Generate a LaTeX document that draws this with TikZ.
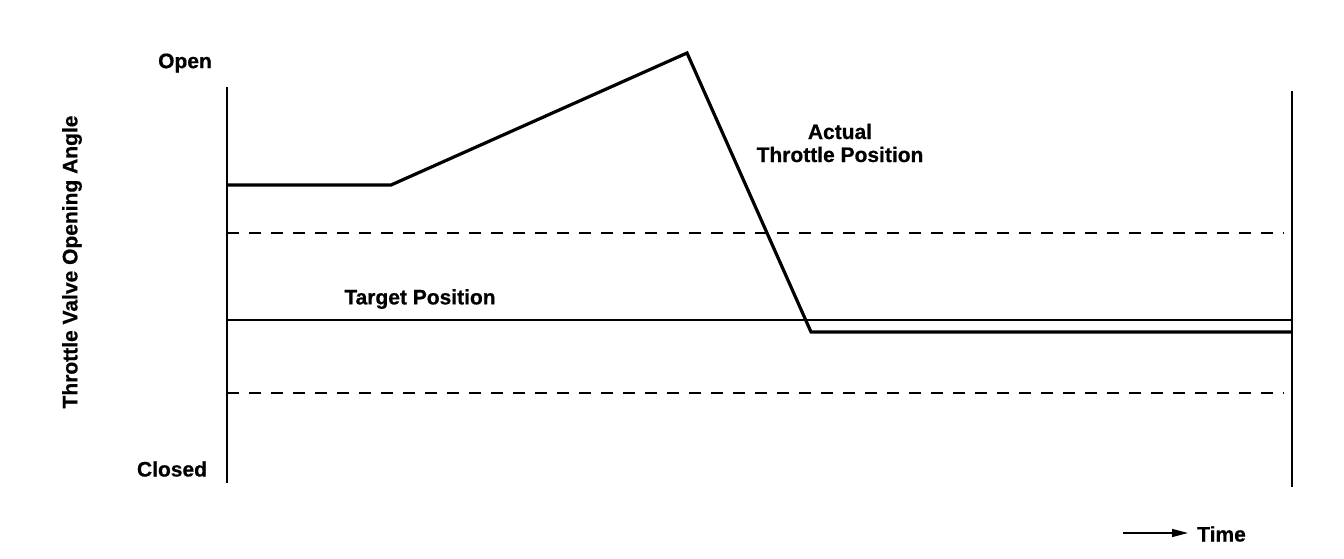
\documentclass[tikz,border=0pt]{standalone}
\usepackage{fontspec}
\setmainfont{Liberation Sans}[BoldFeatures={FakeBold=0.6}]
\usetikzlibrary{arrows.meta}
\begin{document}
\begin{tikzpicture}[x=1pt,y=-1pt,
  lbl/.style={font=\bfseries\fontsize{21}{23}\selectfont, inner sep=0pt, align=center},
  axisline/.style={line width=2.3pt},
  actual/.style={line width=3.2pt, line join=miter},
  target/.style={line width=1.5pt},
  limit/.style={line width=2.6pt, dash pattern=on 12pt off 10pt}]
\useasboundingbox (0,0) rectangle (1344,558);
% axes
\coordinate (lt) at (227,87);
\coordinate (lb) at (227,483);
\coordinate (rt) at (1292,91);
\coordinate (rb) at (1292,487);
\draw[axisline] (lt) -- (lb);
\draw[axisline] (rt) -- (rb);
% limits
\coordinate (u1) at (227,233);
\coordinate (u2) at (1284,233);
\coordinate (d1) at (227,393);
\coordinate (d2) at (1284,393);
\draw[limit] (u1) -- (u2);
\draw[limit] (d1) -- (d2);
% target
\coordinate (t1) at (227,320);
\coordinate (t2) at (1292,320);
\draw[target] (t1) -- (t2);
% actual
\coordinate (a0) at (227,185);
\coordinate (a1) at (391,185);
\coordinate (a2) at (687,53);
\coordinate (a3) at (811,332);
\coordinate (a4) at (1292,332);
\draw[actual] (a0) -- (a1) -- (a2) -- (a3) -- (a4);
% labels
\node[lbl] (open) at (185,63) {Open};
\node[lbl] (closed) at (172,469) {Closed};
\node[lbl, rotate=90] (ylab) at (72,262) {Throttle Valve Opening Angle};
\node[lbl] (tgt) at (420,299) {Target Position};
\node[lbl] (act) at (840,143) {Actual\\Throttle Position};
% time arrow
\node[lbl, anchor=west] (time) at (1197,534) {Time};
\coordinate (ts) at (1123,533);
\coordinate (te) at (1188,533);
\draw[line width=1.4pt, -{Triangle[length=16pt,width=8pt]}] (ts) -- (te);
\end{tikzpicture}
\end{document}
